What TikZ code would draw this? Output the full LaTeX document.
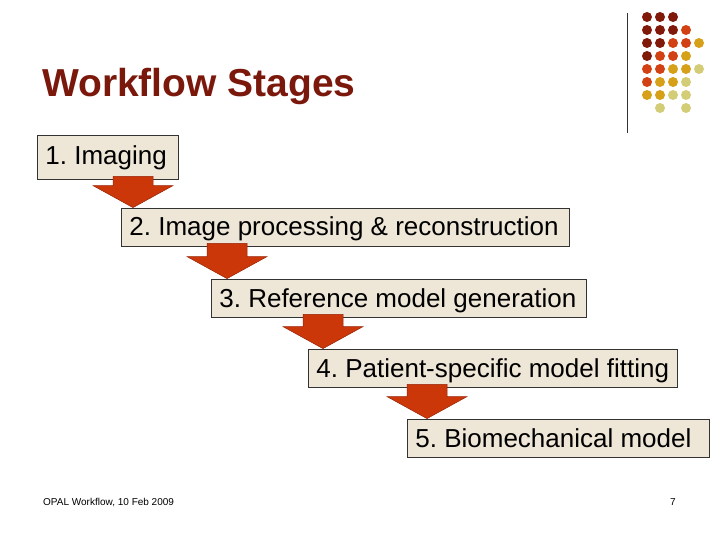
\documentclass[tikz,border=0pt]{standalone}
\usepackage{fontspec}
\setmainfont{Liberation Sans}
\usetikzlibrary{calc}
\frenchspacing

\definecolor{titlered}{RGB}{122,24,12}
\definecolor{boxfill}{RGB}{238,230,214}
\definecolor{arrowred}{RGB}{204,55,10}
\definecolor{arrowedge}{RGB}{150,35,5}
\definecolor{dotA}{RGB}{128,25,10}
\definecolor{dotB}{RGB}{210,65,20}
\definecolor{dotC}{RGB}{215,160,25}
\definecolor{dotD}{RGB}{212,205,120}

% block arrow from one stage box down to the next
\newcommand{\stagearrow}[3]{%
  \coordinate (tip) at ($(#2.north west)+(#3,0)$);
  \coordinate (top) at ($(tip |- #1.south)+(0,-3)$);
  \coordinate (base) at ($(tip)+(0,-22)$);
  \filldraw[blockarrow] ($(top)+(-20,0)$) -- ($(top)+(20,0)$) -- ($(base)+(20,0)$)
     -- ($(base)+(40,0)$) -- (tip) -- ($(base)+(-40,0)$) -- ($(base)+(-20,0)$) -- cycle;}
% left aligned text of a fixed width
\newcommand{\stagetext}[2]{\makebox[#1pt][l]{#2}}

\begin{document}
\begin{tikzpicture}[x=1pt,y=-1pt,
   stagebox/.style={draw=black!80,fill=boxfill,line width=.8pt,anchor=west,
      inner xsep=8pt,inner ysep=0pt,minimum height=38pt,
      text height=20pt,text depth=2pt,font=\fontsize{26}{30}\selectfont},
   blockarrow/.style={fill=arrowred,draw=arrowedge,line width=.5pt},
   dot/.style={circle,inner sep=0pt,minimum size=10pt}]
   \useasboundingbox (0,0) rectangle (720,540);

   \node[anchor=base west,inner sep=0pt,text=titlered,
      font=\fontsize{39}{44}\selectfont\bfseries] (title) at (42,97) {Workflow Stages};
   \draw[black!80,line width=.8pt] (627,13) -- (627,133);

   % the dots
   \foreach \r/\row in {1/{dotA,dotA,dotA},2/{dotA,dotA,dotA,dotB},
      3/{dotA,dotA,dotB,dotB,dotC},4/{dotA,dotB,dotB,dotC},
      5/{dotB,dotB,dotC,dotC,dotD},6/{dotB,dotC,dotC,dotD},
      7/{dotC,dotC,dotD,dotD},8/{none,dotD,none,dotD}}
      \foreach \k [count=\c] in \row
         \node[dot,fill=\k] (d\r\c) at (634+13*\c,4+13*\r) {};

   \node[stagebox,minimum height=44pt,text height=20pt,text depth=4.6pt] (s1) at (37,157) {\stagetext{125}{1. Imaging}};
   \node[stagebox] (s2) at (121,227) {\stagetext{432}{2. Image processing \& reconstruction}};
   \node[stagebox] (s3) at (211,298) {\stagetext{359}{3. Reference model generation}};
   \node[stagebox] (s4) at (308,368) {\stagetext{353}{4. Patient-specific model fitting}};
   \node[stagebox] (s5) at (407,438) {\stagetext{286}{5. Biomechanical model}};

   \stagearrow{s1}{s2}{12}
   \stagearrow{s2}{s3}{16}
   \stagearrow{s3}{s4}{15}
   \stagearrow{s4}{s5}{20}

   \node[anchor=base west,inner sep=0pt,font=\fontsize{10}{12}\selectfont] (foot) at (43,505) {OPAL Workflow, 10 Feb 2009};
   \node[anchor=base east,inner sep=0pt,font=\fontsize{10}{12}\selectfont] (page) at (676,505) {7};
\end{tikzpicture}
\end{document}
